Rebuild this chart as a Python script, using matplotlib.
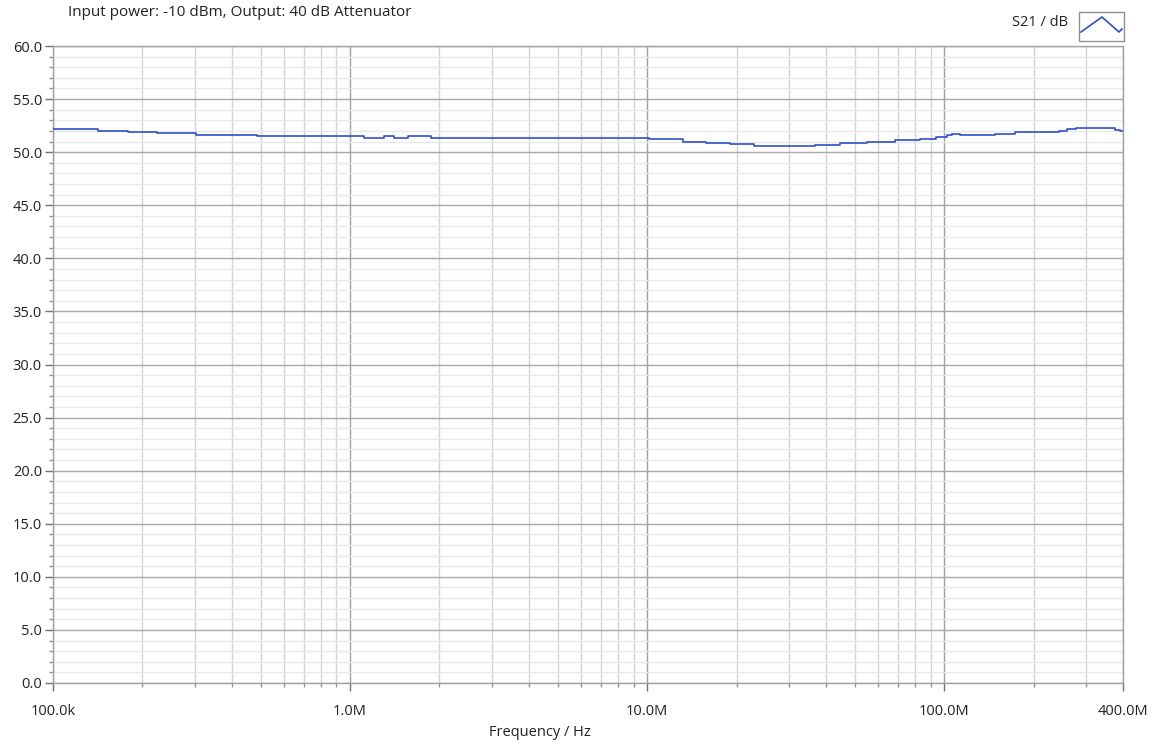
import numpy as np
import matplotlib
matplotlib.use("Agg")
import matplotlib.pyplot as plt
from matplotlib.ticker import FixedLocator, NullFormatter, MultipleLocator, FormatStrFormatter
from matplotlib.lines import Line2D
from matplotlib.patches import Rectangle

plt.rcParams['font.family'] = ['Open Sans', 'DejaVu Sans']

# S21 trace: start frequency of each step (Hz) and its level (dB)
freq_hz = [1.0e5, 1.42e5, 1.79e5, 2.24e5, 3.04e5, 4.88e5, 1.112e6, 1.30e6, 1.405e6,
           1.566e6, 1.872e6, 1.011e7, 1.317e7, 1.574e7, 1.897e7, 2.286e7, 3.67e7,
           4.46e7, 5.50e7, 6.84e7, 8.30e7, 9.40e7, 1.024e8, 1.065e8, 1.133e8,
           1.487e8, 1.738e8, 2.43e8, 2.60e8, 2.77e8, 3.75e8, 3.90e8, 4.0e8]
s21_db = [52.17, 52.03, 51.88, 51.76, 51.63, 51.48, 51.32, 51.48, 51.32,
          51.48, 51.32, 51.20, 51.00, 50.85, 50.75, 50.62, 50.72,
          50.88, 51.00, 51.16, 51.28, 51.44, 51.63, 51.72, 51.60,
          51.75, 51.88, 52.03, 52.17, 52.32, 52.10, 52.03, 52.03]

x_major = [1e5, 1e6, 1e7, 1e8, 4e8]
x_major_labels = ["100.0k", "1.0M", "10.0M", "100.0M", "400.0M"]
x_minor = [m * 10.0 ** e for e in range(5, 9) for m in range(2, 10) if m * 10.0 ** e < 4e8]

title_text = "Input power: -10 dBm, Output: 40 dB Attenuator"
legend_text = "S21 / dB"
x_label = "Frequency / Hz"

W, H = 1153, 744
fig = plt.figure(figsize=(W / 100, H / 100), dpi=100)
ax = fig.add_axes([53 / W, (H - 683) / H, (1123 - 53) / W, (683 - 46) / H])

line_color = "#2f4fcc"
ax.plot(freq_hz, s21_db, drawstyle="steps-post", color=line_color, lw=1.2, zorder=3)

ax.set_xscale("log")
ax.set_xlim(1e5, 4e8)
ax.set_ylim(0, 60)

ax.xaxis.set_major_locator(FixedLocator(x_major))
ax.xaxis.set_minor_locator(FixedLocator(x_minor))
ax.set_xticklabels(x_major_labels)
ax.xaxis.set_minor_formatter(NullFormatter())

ax.yaxis.set_major_locator(MultipleLocator(5))
ax.yaxis.set_minor_locator(MultipleLocator(1))
ax.yaxis.set_major_formatter(FormatStrFormatter("%.1f"))

# grid: darker at decades / 5 dB, lighter in between
ax.grid(which="major", axis="x", color="#a0a0a0", lw=1.0)
ax.grid(which="minor", axis="x", color="#d2d2d2", lw=1.0)
ax.grid(which="major", axis="y", color="#a8a8a8", lw=1.0)
ax.grid(which="minor", axis="y", color="#e8e8e8", lw=1.0)
ax.set_axisbelow(True)

for s in ax.spines.values():
    s.set_color("#a0a0a0")
    s.set_linewidth(1.0)

ax.tick_params(axis="both", which="major", direction="out", length=6, width=1,
               color="#707070", labelsize=10.5, labelcolor="#222222")
ax.tick_params(axis="both", which="minor", direction="out", length=3, width=1,
               color="#909090")
ax.tick_params(axis="x", which="major", pad=9)
ax.tick_params(axis="y", which="major", pad=2)

fig.text(68 / W, 1 - 12 / H, title_text, fontsize=11, color="#222222",
         ha="left", va="center")
fig.text(540 / W, 1 - 733 / H, x_label, fontsize=10.5, color="#222222",
         ha="center", va="center")

# legend label and swatch box
fig.text(1068 / W, 1 - 23 / H, legend_text, fontsize=10.5, color="#222222",
         ha="right", va="center")
box = Rectangle((1079 / W, 1 - 41 / H), 45 / W, 29 / H, transform=fig.transFigure,
                fill=False, edgecolor="#909090", lw=1.0)
fig.add_artist(box)
fig.add_artist(Line2D([1081 / W, 1102 / W, 1119 / W, 1122 / W],
                      [1 - 32 / H, 1 - 17 / H, 1 - 32 / H, 1 - 29 / H],
                      transform=fig.transFigure, color=line_color, lw=1.2))

fig.savefig("out.png", dpi=100, facecolor="white")
